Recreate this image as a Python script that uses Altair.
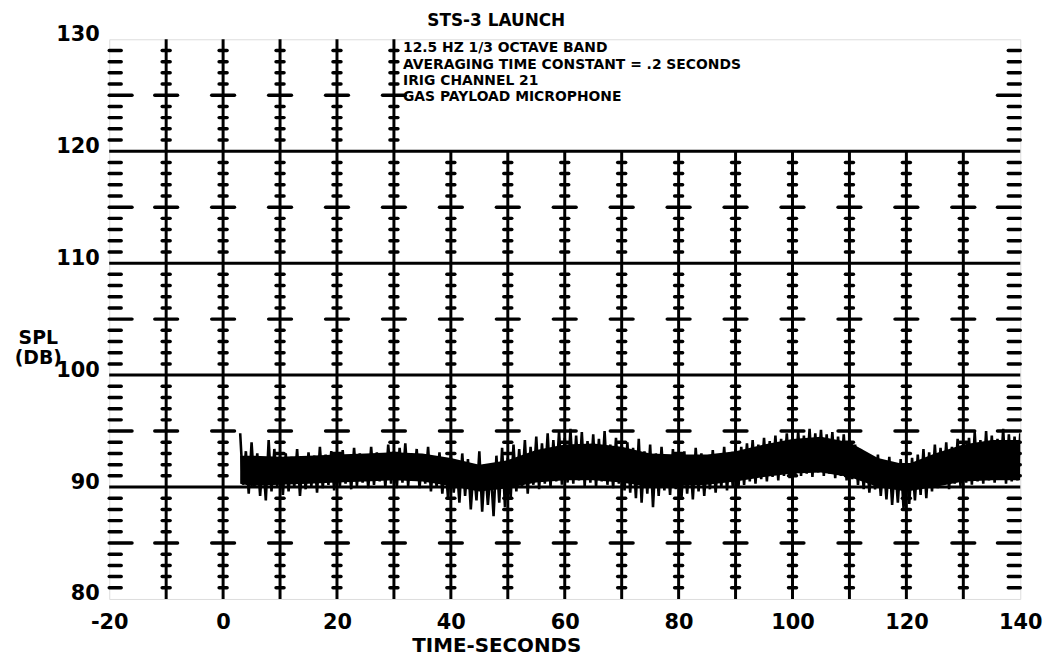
import altair as alt
import pandas as pd

# ---------------- text ----------------
title_text = "STS-3 LAUNCH"
x_title = "TIME-SECONDS"
y_title = ["SPL", "(DB)"]
note_lines = [
    "12.5 HZ  1/3 OCTAVE BAND",
    "AVERAGING TIME CONSTANT = .2 SECONDS",
    "IRIG CHANNEL 21",
    "GAS PAYLOAD MICROPHONE",
]

# ---------------- axes / grid ----------------
x_ticks = [-20, 0, 20, 40, 60, 80, 100, 120, 140]
y_ticks = [80, 90, 100, 110, 120, 130]
grid_x_full = [-10, 0, 10, 20, 30]
grid_x_short = [40, 50, 60, 70, 80, 90, 100, 110, 120, 130]
grid_y = [90, 100, 110, 120]

# ---------------- data ----------------
# spike envelope, read once per second (t = 3 .. 140)
t_start = 3
spl_hi = [
    94.8, 93.2, 94.0, 93.0, 92.6, 94.2, 93.4, 92.8,
    93.0, 92.7, 93.4, 92.5, 93.1, 92.8, 93.6, 92.9, 93.2, 92.6,
    93.3, 92.8, 93.5, 93.0, 92.7, 93.6, 93.1, 92.9, 93.8, 93.2,
    93.5, 93.9, 93.0, 93.4, 92.8, 93.6, 92.6, 93.1, 92.4, 92.9,
    92.2, 93.0, 92.5, 91.8, 93.2, 92.0, 91.6, 92.8, 93.5, 92.6,
    93.8, 93.4, 94.2, 93.6, 94.5, 93.9, 94.8, 94.2, 95.0, 94.4,
    95.2, 94.6, 94.9, 94.1, 94.7, 94.3, 95.0, 93.8, 94.4, 93.9,
    94.0, 93.5, 94.3, 93.2, 93.8, 93.0, 93.6, 92.8, 93.4, 93.1,
    93.2, 92.8, 93.5, 93.0, 92.6, 93.3, 92.9, 93.6, 93.1, 93.4,
    93.6, 93.9, 94.2, 93.8, 94.4, 94.1, 94.6, 94.3, 94.8, 94.5,
    95.0, 94.6, 95.2, 94.8, 95.1, 94.7, 94.9, 94.5, 94.7, 94.2,
    93.8, 93.4, 93.0, 92.6, 92.9, 92.3, 92.7, 92.1, 92.5, 92.0,
    92.6, 92.9, 93.4, 93.1, 93.8, 93.5, 94.0, 93.6, 94.3, 94.0,
    94.4, 94.9, 94.2, 95.0, 94.6, 94.3, 95.2, 94.7, 94.5, 94.8,
]
spl_lo = [
    90.2, 89.4, 90.0, 89.2, 88.8, 89.6, 90.1, 89.3,
    89.6, 90.0, 89.2, 89.8, 90.1, 89.5, 89.9, 90.2, 89.7, 90.0,
    90.3, 89.8, 90.1, 90.4, 89.9, 90.2, 90.5, 90.0, 90.3, 89.9,
    90.4, 90.1, 90.6, 89.9, 90.3, 89.6, 90.0, 89.4, 89.0, 89.5,
    88.6, 89.2, 88.0, 88.8, 87.8, 88.4, 87.4, 88.6, 88.2, 89.0,
    89.6, 90.0, 89.4, 90.2, 89.8, 90.3, 90.0, 90.5, 90.2, 90.4,
    90.3, 90.6, 90.1, 90.4, 90.0, 90.5, 90.2, 89.9, 90.3, 89.7,
    89.5, 89.0, 88.6, 89.4, 88.2, 89.2, 89.7, 89.3, 89.8, 89.0,
    89.4, 88.9, 89.6, 89.2, 89.8, 89.5, 90.0, 89.7, 90.1, 89.9,
    90.2, 90.5, 90.3, 90.7, 90.5, 90.9, 90.6, 91.0, 90.8, 91.1,
    91.0, 91.2, 90.9, 91.3, 91.0, 91.2, 90.8, 91.0, 90.6, 90.7,
    90.2, 89.8, 89.5, 89.8, 89.2, 88.9, 88.4, 88.6, 88.1, 88.5,
    88.8, 89.3, 89.0, 89.6, 89.9, 90.2, 89.8, 90.3, 90.1, 90.4,
    90.2, 90.5, 90.3, 90.6, 90.4, 90.7, 90.3, 90.5, 90.6, 90.4,
]
# dense (solid) core of the trace, read every 5 s
core_t = [3, 5, 10, 15, 20, 25, 30, 35, 40, 45, 50, 55, 60, 65, 70,
          75, 80, 85, 90, 95, 100, 105, 110, 115, 120, 125, 130, 135, 140]
core_hi = [92.8, 92.8, 92.7, 92.8, 92.9, 93.0, 93.1, 93.0, 92.6, 92.0, 92.4, 93.3, 93.8, 93.9, 93.6,
           93.0, 92.9, 92.9, 93.2, 93.8, 94.3, 94.5, 94.0, 92.6, 92.0, 93.0, 93.8, 94.2, 94.2]
core_lo = [90.3, 90.1, 90.2, 90.3, 90.4, 90.5, 90.6, 90.5, 90.1, 89.6, 89.9, 90.4, 90.6, 90.6, 90.4,
           90.0, 90.1, 90.2, 90.5, 90.9, 91.2, 91.3, 90.9, 90.0, 89.6, 90.0, 90.5, 90.6, 90.6]

FONT = "DejaVu Sans"

# ---------------- build tables ----------------
rows = []
k = 0
for i, (h, l) in enumerate(zip(spl_hi, spl_lo)):
    t = t_start + i
    rows.append({"t": t, "spl": h, "o": k}); k += 1
    rows.append({"t": t + 0.5, "spl": l, "o": k}); k += 1
sig = pd.DataFrame(rows)
core = pd.DataFrame({"t": core_t, "hi": core_hi, "lo": core_lo})

vlines = pd.DataFrame(
    [{"x": x, "y1": 80, "y2": 130} for x in grid_x_full]
    + [{"x": x, "y1": 80, "y2": 120} for x in grid_x_short]
)
hlines = pd.DataFrame([{"y": y, "x1": -20, "x2": 140} for y in grid_y])

ticks = []
for x in grid_x_full + grid_x_short:
    top = 130 if x in grid_x_full else 120
    for yv in range(81, top):
        if yv % 10 == 0:
            continue
        hw = 2.0 if yv % 5 == 0 else 0.7
        ticks.append({"x1": x - hw, "x2": x + hw, "y": yv})
for yv in range(81, 130):
    if yv % 10 == 0:
        continue
    w = 4.0 if yv % 5 == 0 else 2.1
    ticks.append({"x1": -20, "x2": -20 + w, "y": yv})
    ticks.append({"x1": 140 - w, "x2": 140, "y": yv})
ticks = pd.DataFrame(ticks)

xscale = alt.Scale(domain=[-20, 140], nice=False, zero=False)
yscale = alt.Scale(domain=[80, 130], nice=False, zero=False)

xaxis = alt.Axis(
    values=x_ticks, grid=False, domain=False, ticks=False, tickSize=0,
    labelExpr="'' + datum.value",
    labelFont=FONT, labelFontWeight="bold", labelFontSize=21, labelColor="black",
    labelPadding=13, labelFlush=False,
    title=x_title, titleFont=FONT, titleFontWeight="bold", titleFontSize=20,
    titleColor="black", titleX=390, titleY=47, titleBaseline="middle", titleAlign="center",
)
yaxis = alt.Axis(
    values=y_ticks, grid=False, domain=False, ticks=False, tickSize=0,
    labelFont=FONT, labelFontWeight="bold", labelFontSize=21, labelColor="black",
    labelPadding=10, labelOffset=-5, labelBaseline="middle", labelFlush=False,
    title=y_title, titleFont=FONT, titleFontWeight="bold", titleFontSize=19,
    titleColor="black", titleAngle=0, titleX=-72, titleY=292, titleBaseline="top",
    titleAlign="center", titleLineHeight=20,
)

base_v = alt.Chart(vlines).mark_rule(color="black", strokeWidth=3).encode(
    x=alt.X("x:Q", scale=xscale, axis=xaxis),
    y=alt.Y("y1:Q", scale=yscale, axis=yaxis),
    y2="y2:Q",
)
base_h = alt.Chart(hlines).mark_rule(color="black", strokeWidth=3).encode(
    x=alt.X("x1:Q", scale=xscale), x2="x2:Q", y=alt.Y("y:Q", scale=yscale)
)
tick_layer = alt.Chart(ticks).mark_rule(color="black", strokeWidth=3.5, strokeCap="round").encode(
    x=alt.X("x1:Q", scale=xscale), x2="x2:Q", y=alt.Y("y:Q", scale=yscale)
)
core_layer = alt.Chart(core).mark_area(color="black", opacity=1, clip=True).encode(
    x=alt.X("t:Q", scale=xscale),
    y=alt.Y("lo:Q", scale=yscale),
    y2="hi:Q",
)
sig_layer = alt.Chart(sig).mark_line(color="black", strokeWidth=2.6, clip=True).encode(
    x=alt.X("t:Q", scale=xscale),
    y=alt.Y("spl:Q", scale=yscale),
    order="o:Q",
)
notes = pd.DataFrame({"line": note_lines, "idx": list(range(len(note_lines)))})
note_layer = alt.Chart(notes).transform_calculate(
    py="9 + datum.idx * 16.5"
).mark_text(
    font=FONT, fontWeight="bold", fontSize=14, align="left", baseline="middle", color="black"
).encode(
    x=alt.value(296),
    y=alt.Y("py:Q", scale=None),
    text="line:N",
)
title_df = pd.DataFrame({"label": [title_text]})
title_layer = alt.Chart(title_df).mark_text(
    font=FONT, fontWeight="bold", fontSize=17, align="center", baseline="alphabetic", color="black"
).encode(
    x=alt.value(390),
    y=alt.value(-13),
    text="label:N",
)

chart = alt.layer(
    base_v, base_h, tick_layer, core_layer, sig_layer, note_layer, title_layer
).properties(
    width=918,
    height=564,
    autosize=alt.AutoSizeParams(type="none"),
    padding={"left": 102, "top": 29, "right": 34, "bottom": 60},
).configure_view(stroke="black", strokeWidth=3).configure(background="white")

chart.save("out.html", embed_options={"renderer": "svg", "actions": False})
